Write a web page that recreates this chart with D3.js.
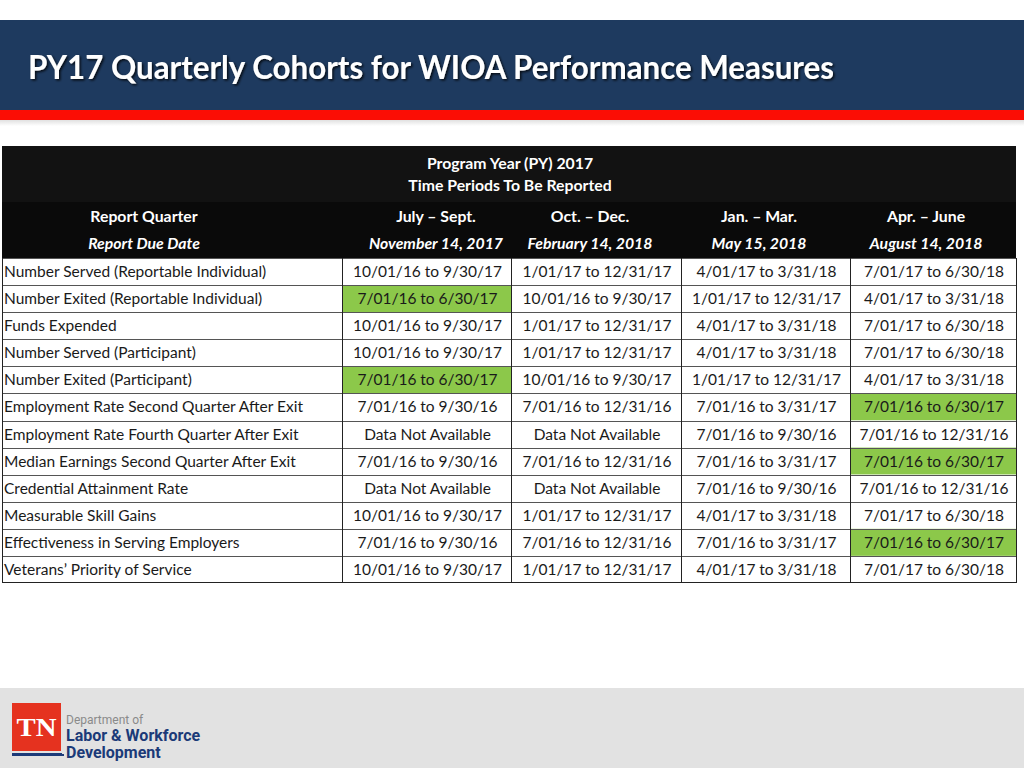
<!DOCTYPE html>
<html>
<head>
<meta charset="utf-8">
<script src="https://cdn.jsdelivr.net/npm/d3@7"></script>
<style>
  html, body { margin: 0; padding: 0; background: #fff; }
  svg { display: block; }
</style>
</head>
<body>
<svg id="chart" width="1024" height="768"></svg>
<script>
// ---------- DATA ----------
const titleText = "PY17 Quarterly Cohorts for WIOA Performance Measures";
const headerLines = ["Program Year (PY) 2017", "Time Periods To Be Reported"];
const quarters = ["Report Quarter", "July – Sept.", "Oct. – Dec.", "Jan. – Mar.", "Apr. – June"];
const dueDates = ["Report Due Date", "November 14, 2017", "February 14, 2018", "May 15, 2018", "August 14, 2018"];
const measures = [
  "Number Served (Reportable Individual)",
  "Number Exited (Reportable Individual)",
  "Funds Expended",
  "Number Served (Participant)",
  "Number Exited (Participant)",
  "Employment Rate Second Quarter After Exit",
  "Employment Rate Fourth Quarter After Exit",
  "Median Earnings Second Quarter After Exit",
  "Credential Attainment Rate",
  "Measurable Skill Gains",
  "Effectiveness in Serving Employers",
  "Veterans’ Priority of Service"
];
const julySept = ["10/01/16 to 9/30/17", "7/01/16 to 6/30/17", "10/01/16 to 9/30/17", "10/01/16 to 9/30/17", "7/01/16 to 6/30/17", "7/01/16 to 9/30/16", "Data Not Available", "7/01/16 to 9/30/16", "Data Not Available", "10/01/16 to 9/30/17", "7/01/16 to 9/30/16", "10/01/16 to 9/30/17"];
const octDec = ["1/01/17 to 12/31/17", "10/01/16 to 9/30/17", "1/01/17 to 12/31/17", "1/01/17 to 12/31/17", "10/01/16 to 9/30/17", "7/01/16 to 12/31/16", "Data Not Available", "7/01/16 to 12/31/16", "Data Not Available", "1/01/17 to 12/31/17", "7/01/16 to 12/31/16", "1/01/17 to 12/31/17"];
const janMar = ["4/01/17 to 3/31/18", "1/01/17 to 12/31/17", "4/01/17 to 3/31/18", "4/01/17 to 3/31/18", "1/01/17 to 12/31/17", "7/01/16 to 3/31/17", "7/01/16 to 9/30/16", "7/01/16 to 3/31/17", "7/01/16 to 9/30/16", "4/01/17 to 3/31/18", "7/01/16 to 3/31/17", "4/01/17 to 3/31/18"];
const aprJune = ["7/01/17 to 6/30/18", "4/01/17 to 3/31/18", "7/01/17 to 6/30/18", "7/01/17 to 6/30/18", "4/01/17 to 3/31/18", "7/01/16 to 6/30/17", "7/01/16 to 12/31/16", "7/01/16 to 6/30/17", "7/01/16 to 12/31/16", "7/01/17 to 6/30/18", "7/01/16 to 6/30/17", "7/01/17 to 6/30/18"];
// highlighted cells: [row index, quarter column 1..4]
const highlighted = [[1, 1], [4, 1], [5, 4], [7, 4], [10, 4]];
const logoLines = ["Department of", "Labor & Workforce", "Development"];

// ---------- LAYOUT ----------
const svg = d3.select("#chart");
const W = 1024, H = 768;
const FONT = "Lato, 'Open Sans', sans-serif";
const columns = [measures, julySept, octDec, janMar, aprJune];

// Title band
svg.append("rect").attr("x", 0).attr("y", 20).attr("width", W).attr("height", 90).attr("fill", "#1e3a5f");
const defs = svg.append("defs");
const grad = defs.append("linearGradient").attr("id", "shade").attr("x1", 0).attr("x2", 0).attr("y1", 0).attr("y2", 1);
grad.append("stop").attr("offset", "0%").attr("stop-color", "#000").attr("stop-opacity", 0.12);
grad.append("stop").attr("offset", "100%").attr("stop-color", "#000").attr("stop-opacity", 0);
svg.append("rect").attr("x", 0).attr("y", 110).attr("width", W).attr("height", 10).attr("fill", "#fb0d05");
svg.append("rect").attr("x", 0).attr("y", 120).attr("width", W).attr("height", 6).attr("fill", "url(#shade)");

const filt = defs.append("filter").attr("id", "tshadow").attr("x", "-5%").attr("y", "-30%").attr("width", "110%").attr("height", "160%");
filt.append("feDropShadow").attr("dx", 1.5).attr("dy", 1.5).attr("stdDeviation", 1).attr("flood-color", "#000").attr("flood-opacity", 0.8);
svg.append("text").attr("x", 28).attr("y", 79)
  .attr("fill", "#fff").attr("font-family", FONT).attr("font-weight", 700).attr("font-size", 32)
  .attr("textLength", 806).attr("lengthAdjust", "spacingAndGlyphs")
  .attr("filter", "url(#tshadow)")
  .text(titleText);

// Table scales
const tableLeft = 2, tableRight = 1016;
const colEdges = [2, 342, 511, 681, 850, 1016];
const colIdx = d3.range(columns.length);
const xLeft = d3.scaleOrdinal().domain(colIdx).range(colEdges.slice(0, 5));
const xRight = d3.scaleOrdinal().domain(colIdx).range(colEdges.slice(1));
const headerCenters = d3.scaleOrdinal().domain(colIdx).range([144, 436, 590, 759, 926]);
const y = d3.scaleBand().domain(d3.range(measures.length)).range([258, 583]).paddingInner(0).paddingOuter(0);

// Header black
svg.append("rect").attr("x", tableLeft).attr("y", 146).attr("width", tableRight - tableLeft).attr("height", 112).attr("fill", "#0a0a0a");
svg.append("rect").attr("x", tableLeft).attr("y", 146).attr("width", tableRight - tableLeft).attr("height", 56).attr("fill", "#121212");

svg.selectAll("text.hdr").data(headerLines).join("text").attr("class", "hdr")
  .attr("x", (tableLeft + tableRight) / 2 + 1).attr("y", (d, i) => 169 + i * 22)
  .attr("text-anchor", "middle").attr("fill", "#fff")
  .attr("font-family", FONT).attr("font-weight", 700).attr("font-size", 15.8)
  .text(d => d);

svg.selectAll("text.qtr").data(quarters).join("text").attr("class", "qtr")
  .attr("x", (d, i) => headerCenters(i)).attr("y", 222)
  .attr("text-anchor", "middle").attr("fill", "#fff")
  .attr("font-family", FONT).attr("font-weight", 700).attr("font-size", 15.8)
  .text(d => d);
svg.selectAll("text.due").data(dueDates).join("text").attr("class", "due")
  .attr("x", (d, i) => headerCenters(i)).attr("y", 249)
  .attr("text-anchor", "middle").attr("fill", "#fff")
  .attr("font-family", FONT).attr("font-weight", 700).attr("font-style", "italic").attr("font-size", 15.8)
  .text(d => d);

// Body cells
const cells = [];
columns.forEach((col, c) => col.forEach((v, r) => cells.push({ r, c, v })));
const isGreen = (r, c) => highlighted.some(h => h[0] === r && h[1] === c);

const body = svg.append("g");
body.selectAll("rect.cell").data(cells).join("rect").attr("class", "cell")
  .attr("x", d => xLeft(d.c)).attr("y", d => y(d.r))
  .attr("width", d => xRight(d.c) - xLeft(d.c)).attr("height", y.bandwidth())
  .attr("fill", d => isGreen(d.r, d.c) ? "#8cc84a" : "#fff");

// horizontal lines
body.selectAll("line.h").data(d3.range(measures.length + 1)).join("line").attr("class", "h")
  .attr("x1", tableLeft).attr("x2", tableRight)
  .attr("y1", d => d < measures.length ? Math.round(y(d)) + 0.5 : 582.5)
  .attr("y2", d => d < measures.length ? Math.round(y(d)) + 0.5 : 582.5)
  .attr("stroke", d => d === measures.length ? "#222" : "#555").attr("stroke-width", 1);
// vertical lines
body.selectAll("line.v").data(colEdges).join("line").attr("class", "v")
  .attr("x1", d => d + 0.5).attr("x2", d => d + 0.5)
  .attr("y1", 258).attr("y2", 583)
  .attr("stroke", "#222").attr("stroke-width", 1);

body.selectAll("text.cell").data(cells).join("text").attr("class", "cell")
  .attr("x", d => d.c === 0 ? xLeft(d.c) + 2 : (xLeft(d.c) + xRight(d.c)) / 2 + 1)
  .attr("y", d => y(d.r) + y.bandwidth() / 2 + 5.5)
  .attr("text-anchor", d => d.c === 0 ? "start" : "middle")
  .attr("fill", "#1a1a1a")
  .attr("font-family", FONT).attr("font-size", 15.5)
  .text(d => d.v);

// Footer
svg.append("rect").attr("x", 0).attr("y", 688).attr("width", W).attr("height", 80).attr("fill", "#e2e2e2");
svg.append("rect").attr("x", 12).attr("y", 703).attr("width", 49).attr("height", 48).attr("fill", "#e5321f");
svg.append("rect").attr("x", 12).attr("y", 753).attr("width", 50).attr("height", 3).attr("fill", "#1b3a78");
svg.append("rect").attr("x", 62).attr("y", 754).attr("width", 2).attr("height", 2).attr("fill", "#1b3a78");
svg.append("text").attr("x", 36.5).attr("y", 736).attr("text-anchor", "middle")
  .attr("fill", "#fff").attr("font-family", "'Liberation Serif', 'DejaVu Serif', serif").attr("font-weight", 700)
  .attr("font-size", 26).attr("textLength", 40).attr("lengthAdjust", "spacingAndGlyphs").text("TN");
svg.selectAll("text.logo").data(logoLines).join("text").attr("class", "logo")
  .attr("x", 66).attr("y", (d, i) => [724, 741, 758][i])
  .attr("fill", (d, i) => i === 0 ? "#8a8a8a" : "#1b3a78")
  .attr("font-family", "Roboto, Inter, sans-serif")
  .attr("font-weight", (d, i) => i === 0 ? 400 : 700)
  .attr("font-size", (d, i) => i === 0 ? 12 : 16)
  .text(d => d);
</script>
</body>
</html>
